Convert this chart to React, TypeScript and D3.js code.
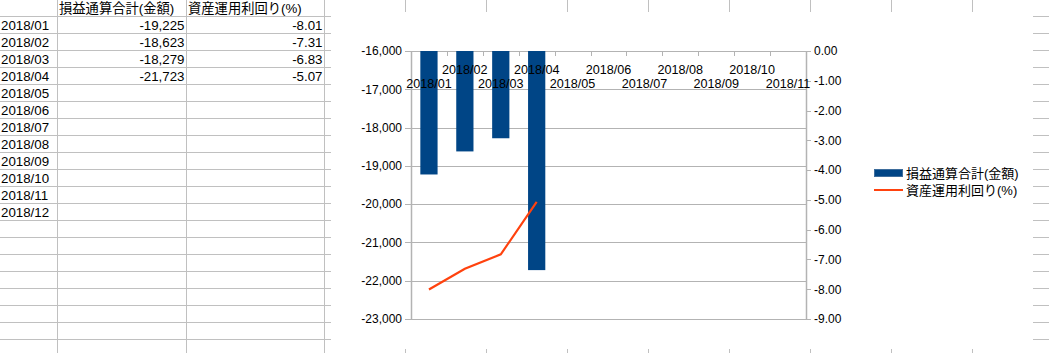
import * as d3 from 'd3';

// spreadsheet + chart data
const months = ['2018/01', '2018/02', '2018/03', '2018/04', '2018/05', '2018/06', '2018/07', '2018/08', '2018/09', '2018/10', '2018/11', '2018/12'];
const amountLabel = '損益通算合計(金額)';
const rateLabel = '資産運用利回り(%)';
const amounts = [-19225, -18623, -18279, -21723];
const rates = [-8.01, -7.31, -6.83, -5.07];
// the chart range only covers 11 months
const categories = months.slice(0, 11);

const W = 1049;
const H = 353;
const GRID = '#c0c0c0';
const AXIS = '#b3b3b3';
const BLUE = '#004586';
const ORANGE = '#ff420e';
const SHEET_FONT = "'Liberation Sans', 'Noto Sans CJK JP', sans-serif";

const loc = d3.formatLocale({ decimal: '.', thousands: ',', grouping: [3], currency: ['', ''], minus: '-' });
const fmtAmount = loc.format(',');
const fmtRate = loc.format('.2f');

const App = () => {
    // sheet geometry
    const rowH = 17;
    const rowTop = -0.5;
    const colLines = [57.5, 186.5, 324.5, 405.5, 486.5, 567.5, 648.5, 729.5, 810.5, 891.5, 972.5];
    const rowLines = d3.range(1, 22).map((k) => rowTop + k * rowH);
    const rowText = (k: number) => rowTop + k * rowH + rowH / 2 + 4.8;

    // chart area (object box)
    const box = { x: 331, y: 12, w: 702, h: 337 };
    const plot = { left: 411, right: 806, top: 51, bottom: 319 };

    const x = d3.scaleBand().domain(categories).range([plot.left, plot.right]);
    const yL = d3.scaleLinear().domain([-16000, -23000]).range([plot.top, plot.bottom]);
    const yR = d3.scaleLinear().domain([0, -9]).range([plot.top, plot.bottom]);
    const bw = x.bandwidth() * 0.48;
    const cx = (c: string) => (x(c) ?? 0) + x.bandwidth() / 2;

    const line = d3
        .line<number>()
        .x((_, i) => cx(categories[i]))
        .y((d) => yR(d));

    return (
        <svg width={W} height={H} style={{ position: 'absolute', left: 0, top: 0 }} fontFamily={SHEET_FONT}>
            <rect width={W} height={H} fill="#fff" />
            {/* sheet grid */}
            {rowLines.map((y) => (
                <line key={'r' + y} x1={0} x2={W} y1={y} y2={y} stroke={GRID} />
            ))}
            {colLines.map((cxl) => (
                <line key={'c' + cxl} x1={cxl} x2={cxl} y1={0} y2={H} stroke={GRID} />
            ))}

            {/* sheet cells */}
            <g fontSize={13.3} fill="#000">
                <text x={59} y={rowText(0)}>{amountLabel}</text>
                <text x={188} y={rowText(0)}>{rateLabel}</text>
                {months.map((m, i) => (
                    <text key={m} x={1} y={rowText(i + 1)}>{m}</text>
                ))}
                {amounts.map((v, i) => (
                    <text key={'a' + i} x={184.5} y={rowText(i + 1)} textAnchor="end">{fmtAmount(v)}</text>
                ))}
                {rates.map((v, i) => (
                    <text key={'p' + i} x={322.5} y={rowText(i + 1)} textAnchor="end">{fmtRate(v)}</text>
                ))}
            </g>

            {/* chart object */}
            <rect x={box.x} y={box.y} width={box.w} height={box.h} fill="#fff" />

            {/* gridlines */}
            {yL.ticks(7).map((t) => (
                <line key={'g' + t} x1={plot.left - 6} x2={plot.right} y1={Math.round(yL(t)) + 0.5} y2={Math.round(yL(t)) + 0.5} stroke={AXIS} />
            ))}

            {/* bars */}
            {amounts.map((v, i) => (
                <rect
                    key={'b' + i}
                    x={cx(categories[i]) - bw / 2}
                    y={yL(-16000)}
                    width={bw}
                    height={yL(v) - yL(-16000)}
                    fill={BLUE}
                />
            ))}

            {/* axes */}
            <line x1={plot.left + 0.5} x2={plot.left + 0.5} y1={plot.top} y2={plot.bottom + 0.5} stroke={AXIS} strokeWidth={1.5} />
            <line x1={plot.right + 0.5} x2={plot.right + 0.5} y1={plot.top} y2={plot.bottom + 0.5} stroke={AXIS} strokeWidth={1.5} />
            {d3.range(categories.length + 1).map((i) => {
                const xx = Math.round(plot.left + i * x.step()) + 0.5;
                return <line key={'xt' + i} x1={xx} x2={xx} y1={plot.top} y2={plot.top + 5} stroke={AXIS} />;
            })}
            {yR.ticks(9).map((t) => (
                <line key={'rt' + t} x1={plot.right} x2={plot.right + 5} y1={Math.round(yR(t)) + 0.5} y2={Math.round(yR(t)) + 0.5} stroke={AXIS} />
            ))}

            {/* left axis labels */}
            <g fontSize={12} textAnchor="end" fill="#000">
                {yL.ticks(7).map((t) => (
                    <text key={'yl' + t} x={plot.left - 9} y={yL(t) + 4.3}>{fmtAmount(t)}</text>
                ))}
            </g>
            {/* right axis labels */}
            <g fontSize={12} fill="#000">
                {yR.ticks(9).map((t) => (
                    <text key={'yr' + t} x={plot.right + 8} y={yR(t) + 4.3}>{fmtRate(t)}</text>
                ))}
            </g>
            {/* category labels, staggered */}
            <g fontSize={12.6} textAnchor="middle" fill="#000">
                {categories.map((c, i) => (
                    <text key={c} x={cx(c)} y={i % 2 === 0 ? 87.5 : 73.5}>{c}</text>
                ))}
            </g>

            {/* rate line */}
            <path d={line(rates) ?? ''} fill="none" stroke={ORANGE} strokeWidth={2.2} />

            {/* legend */}
            <rect x={874.5} y={169.5} width={28} height={7} fill={BLUE} stroke="#3e6d9c" />
            <line x1={874} x2={903} y1={190} y2={190} stroke={ORANGE} strokeWidth={2} />
            <g fontSize={13} fill="#000">
                <text x={906} y={177.5}>{amountLabel}</text>
                <text x={906} y={194.5}>{rateLabel}</text>
            </g>
        </svg>
    );
};

export default App;
